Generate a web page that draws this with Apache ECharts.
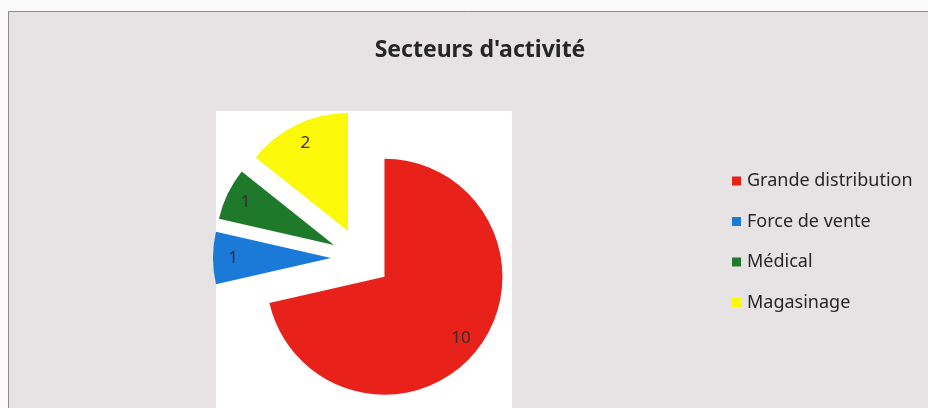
<!DOCTYPE html>
<html>
	<head>
		<meta charset="UTF-8">
		<title>Secteurs d'activité</title>
		<style type="text/css">
			html,body{
				margin: 0;
				padding: 0;
				width: 100%;
				height: 100%;
				background: #fbfbfb;
			}
			#main{
				width: 928px;
				height: 408px;
			}
		</style>
	</head>
	<body>
		<div id="main"></div>
		<script src="https://cdn.jsdelivr.net/npm/echarts@6/dist/echarts.min.js"></script>
		<script>
			// valeurs
			var secteurs = ['Grande distribution', 'Force de vente', 'Médical', 'Magasinage'];
			var effectifs = [10, 1, 1, 2];
			var couleurs = ['#e8211b', '#1b79d8', '#1e7a2a', '#fcf80a'];

			var pieData = secteurs.map(function (nom, i) {
				return { name: nom, value: effectifs[i], selected: true, itemStyle: { color: couleurs[i] } };
			});
			var labelData = secteurs.map(function (nom, i) {
				return { name: nom, value: effectifs[i], selected: true };
			});

			var myChart = echarts.init(document.getElementById('main'));
			myChart.setOption({
				animation: false,
				textStyle: { fontFamily: 'Noto Sans' },
				graphic: [
					{
						type: 'rect', z: -10,
						shape: { x: 8.5, y: 11.5, width: 940, height: 420 },
						style: { fill: '#e7e3e5', stroke: '#8c8a8c', lineWidth: 1 }
					},
					{
						type: 'rect', z: -9,
						shape: { x: 216, y: 111, width: 296, height: 300 },
						style: { fill: '#ffffff' }
					}
				],
				title: {
					text: "Secteurs d'activité",
					left: 475, top: 34, textAlign: 'center',
					textStyle: { fontFamily: 'Noto Sans', fontWeight: 'bold', fontSize: 23, color: '#262626' }
				},
				legend: {
					orient: 'vertical',
					left: 727, top: 167,
					icon: 'rect',
					itemWidth: 9, itemHeight: 9,
					itemGap: 22.5,
					data: secteurs,
					textStyle: { fontFamily: 'Noto Sans', fontSize: 18, color: '#262626', padding: [0, 0, 0, 1] }
				},
				series: [
					{
						type: 'pie',
						center: [361, 258],
						radius: [0, 118],
						startAngle: 90,
						clockwise: true,
						selectedMode: 'multiple',
						selectedOffset: 30,
						label: { show: false },
						labelLine: { show: false },
						emphasis: { disabled: true },
						data: pieData
					},
					{
						type: 'pie',
						center: [361, 258],
						radius: [72, 118],
						startAngle: 90,
						clockwise: true,
						silent: true,
						selectedMode: 'multiple',
						selectedOffset: 30,
						itemStyle: { color: 'rgba(0,0,0,0)' },
						label: {
							show: true, position: 'inside', formatter: '{c}',
							fontFamily: 'Noto Sans', fontSize: 17, color: '#3b2b28'
						},
						labelLine: { show: false },
						data: labelData
					}
				]
			});
		</script>
	</body>
</html>
